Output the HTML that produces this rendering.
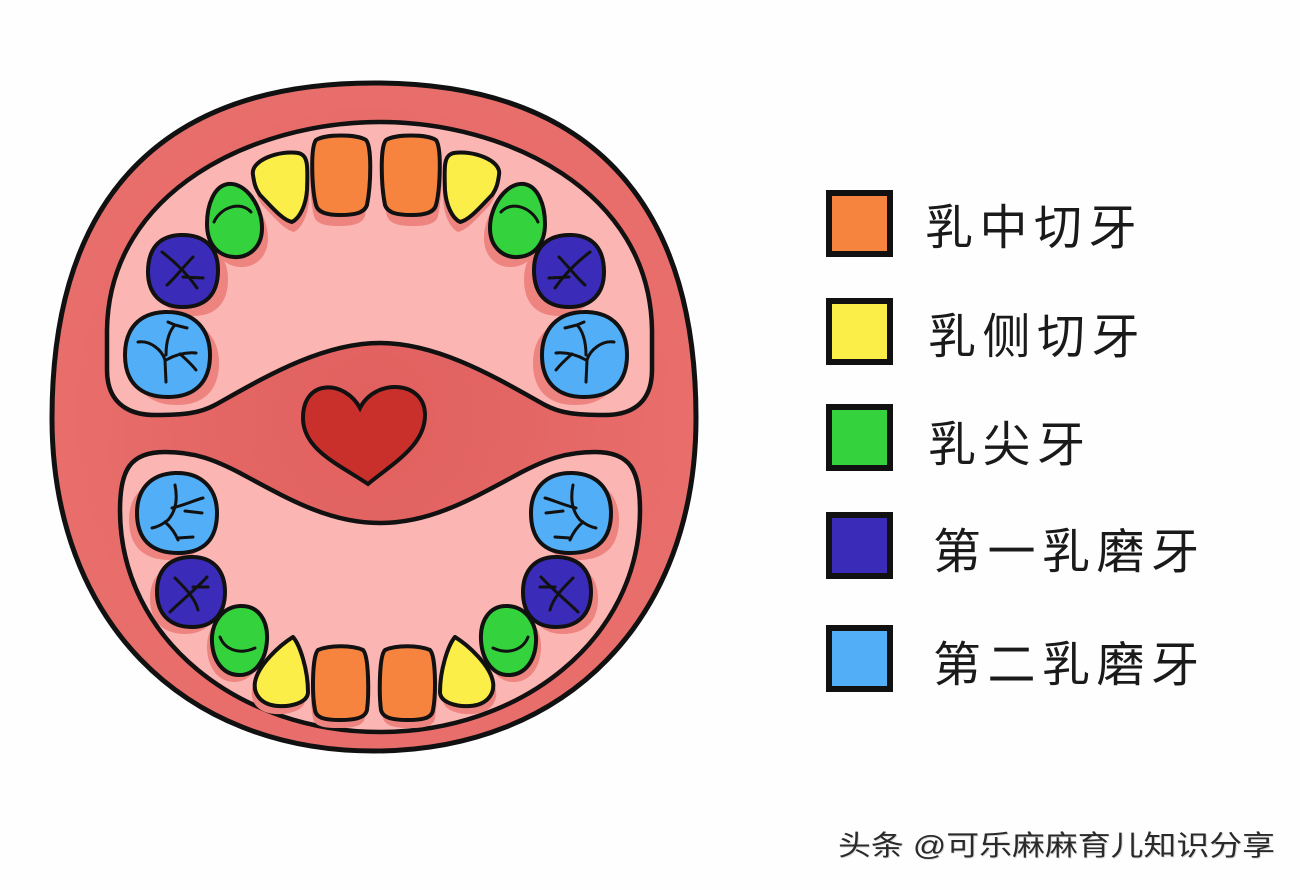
<!DOCTYPE html>
<html><head><meta charset="utf-8"><style>
html,body{margin:0;padding:0;background:#fefefe;}
svg{display:block;}
</style></head><body>
<svg width="1300" height="890" viewBox="0 0 1300 890" xmlns="http://www.w3.org/2000/svg">
<defs>
<radialGradient id="og" cx="0.5" cy="0.5" r="0.55">
<stop offset="0" stop-color="#e0605e"/><stop offset="1" stop-color="#e96f6d"/>
</radialGradient>
<path id="uc" d="M316,140 C325,134 357,134 366,140 C372,146 371,185 367,205 C364,214 352,215 340,215 C328,215 318,213 316,205 C312,190 310,148 316,140 Z"/>
<path id="ul" d="M253,175 C250,160 280,150 298,153 C308,155 308,165 307,190 C306,205 300,218 292,222 C282,220 270,205 260,195 C255,188 254,182 253,175 Z"/>
<path id="uk" d="M228,184 C245,182 262,205 262,228 C262,248 248,258 234,257 C218,256 207,244 207,224 C207,205 214,186 228,184 Z"/>
<path id="um1" d="M180,235 C205,234 218,248 218,270 C218,295 205,307 183,307 C160,307 148,293 148,272 C148,250 158,236 180,235 Z"/>
<path id="um2" d="M165,312 C195,311 210,330 210,355 C210,382 195,397 168,397 C140,397 125,382 125,355 C125,330 138,313 165,312 Z"/>
<path id="lc" d="M318,650 C330,645 352,645 363,650 C369,656 369,695 367,710 C365,719 352,720 340,720 C328,720 316,719 315,710 C312,695 312,656 318,650 Z"/>
<path id="ll" d="M293,637 C300,645 308,670 308,692 C308,703 290,707 278,706 C262,705 253,695 255,682 C258,665 280,645 293,637 Z"/>
<path id="lk" d="M240,606 C258,605 268,620 267,640 C266,660 255,676 238,675 C222,674 213,660 212,642 C211,622 223,607 240,606 Z"/>
<path id="lm1" d="M190,557 C214,556 225,572 225,592 C225,615 212,627 192,627 C170,627 157,614 157,592 C157,571 168,558 190,557 Z"/>
<path id="lm2" d="M175,473 C203,472 217,490 217,513 C217,538 205,553 178,553 C150,553 137,538 137,513 C137,490 150,474 175,473 Z"/>
</defs>

<!-- outer mouth -->
<path d="M374,83 C588,83 696,200 696,418 C696,618 567,751 374,751 C181,751 52,618 52,418 C52,200 160,83 374,83 Z" fill="url(#og)" stroke="#111" stroke-width="5"/>

<!-- upper inner region -->
<path d="M380,122 C255,122 109,190 107,330 L107,370 C107,400 125,415 155,415 C185,415 200,413 215,405 C260,380 320,343 380,343 C440,343 500,380 545,405 C560,413 575,415 605,415 C635,415 652,400 652,370 L652,330 C650,190 505,122 380,122 Z" fill="#fbb6b3" stroke="#111" stroke-width="4.5"/>

<!-- lower inner region -->
<path d="M120,510 C120,470 130,452 165,452 C195,452 215,460 240,473 C290,500 330,523 380,523 C430,523 470,500 520,473 C545,460 565,452 595,452 C630,452 640,470 640,510 C640,640 520,732 380,732 C240,732 120,640 120,510 Z" fill="#fbb6b3" stroke="#111" stroke-width="4.5"/>

<!-- heart -->
<path d="M360,408 C345,380 303,378 303,418 C303,450 340,465 368,484 C395,462 425,445 425,415 C425,380 375,378 360,408 Z" fill="#c9302c" stroke="#111" stroke-width="4"/>

<!-- upper shadows -->
<g id="uls" fill="#ee8480">
<use href="#uc" transform="translate(-2,11)"/>
<use href="#ul" transform="translate(2,10)"/>
<use href="#uk" transform="translate(6,10)"/>
<use href="#um1" transform="translate(10,9)"/>
<use href="#um2" transform="translate(9,8)"/>
</g>
<use href="#uls" transform="translate(752,0) scale(-1,1)"/>

<!-- lower shadows -->
<g id="lls" fill="#ee8480">
<use href="#lc" transform="translate(-2,8)"/>
<use href="#ll" transform="translate(-3,8)"/>
<use href="#lk" transform="translate(-5,7)"/>
<use href="#lm1" transform="translate(-7,7)"/>
<use href="#lm2" transform="translate(-8,7)"/>
</g>
<use href="#lls" transform="translate(748,0) scale(-1,1)"/>

<!-- upper teeth left -->
<g id="ult" stroke="#111" stroke-width="4" stroke-linejoin="round">
<use href="#uc" fill="#f6843f"/>
<use href="#ul" fill="#fcee48"/>
<use href="#uk" fill="#34d23c"/>
<use href="#um1" fill="#3a2cb8"/>
<use href="#um2" fill="#52aef6"/>
<g fill="none" stroke-width="3" stroke-linecap="round">
<path d="M214,222 C220,208 240,200 251,212"/>
<path d="M162,252 C175,262 188,275 197,288"/>
<path d="M193,257 C185,265 175,278 167,285"/>
<path d="M183,277 L203,278"/>
<path d="M138,342 C150,340 162,350 165,360 L166,382"/>
<path d="M166,355 C166,340 170,330 175,325 L168,322 M175,325 L187,328"/>
<path d="M166,360 C175,355 185,352 196,353 M180,354 C187,360 192,365 196,370"/>
</g>
</g>
<use href="#ult" transform="translate(752,0) scale(-1,1)"/>

<!-- lower teeth left -->
<g id="llt" stroke="#111" stroke-width="4" stroke-linejoin="round">
<use href="#lc" fill="#f6843f"/>
<use href="#ll" fill="#fcee48"/>
<use href="#lk" fill="#34d23c"/>
<use href="#lm1" fill="#3a2cb8"/>
<use href="#lm2" fill="#52aef6"/>
<g fill="none" stroke-width="3" stroke-linecap="round">
<path d="M220,637 C225,650 240,655 255,648"/>
<path d="M175,578 C185,588 195,598 198,610"/>
<path d="M207,577 C195,590 180,602 170,612"/>
<path d="M193,587 L208,587"/>
<path d="M175,485 C178,500 175,512 168,520 C162,525 157,527 152,528"/>
<path d="M172,508 C185,505 195,500 203,498"/>
<path d="M185,511 L202,513"/>
<path d="M165,522 C172,528 176,535 178,540 M178,538 L193,537"/>
</g>
</g>
<use href="#llt" transform="translate(748,0) scale(-1,1)"/>

<!-- legend -->
<g stroke="#111" stroke-width="6">
<rect x="829" y="193" width="61" height="61" fill="#f6843f"/>
<rect x="829" y="301" width="61" height="61" fill="#fcee48"/>
<rect x="829" y="407" width="61" height="61" fill="#34d23c"/>
<rect x="829" y="515" width="61" height="61" fill="#3a2cb8"/>
<rect x="829" y="628" width="61" height="61" fill="#52aef6"/>
</g>
<g font-family="'Liberation Sans','Noto Sans CJK SC',sans-serif" font-size="48" fill="#1a1a1a" letter-spacing="6.5">
<text x="925" y="244">乳中切牙</text>
<text x="928" y="353">乳侧切牙</text>
<text x="928" y="461">乳尖牙</text>
<text x="933" y="568">第一乳磨牙</text>
<text x="933" y="681">第二乳磨牙</text>
</g>

<!-- watermark -->
<text x="839" y="856" font-family="'Liberation Sans','Noto Sans CJK SC',sans-serif" font-size="28" fill="#dcdcdc" textLength="437" lengthAdjust="spacingAndGlyphs">头条 @可乐麻麻育儿知识分享</text>
<text x="838" y="855" font-family="'Liberation Sans','Noto Sans CJK SC',sans-serif" font-size="28" fill="#2a2a2a" textLength="437" lengthAdjust="spacingAndGlyphs">头条 @可乐麻麻育儿知识分享</text>
</svg>
</body></html>
